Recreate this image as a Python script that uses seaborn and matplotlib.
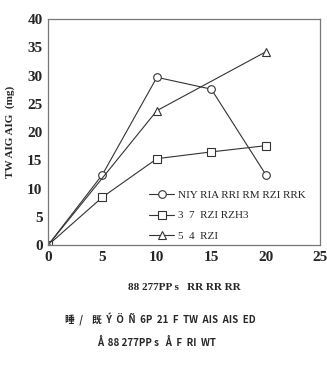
import matplotlib
matplotlib.use("Agg")
import matplotlib.pyplot as plt
import seaborn as sns
import pandas as pd

time_a = [0, 5, 10, 15, 20]
circle_vals = [0, 12.5, 29.7, 27.6, 12.5]
square_vals = [0, 8.5, 15.3, 16.5, 17.6]
time_b = [0, 10, 20]
triangle_vals = [0, 23.8, 34.2]
labels = ["NIY RIA RRI RM RZI RRK", "3  7  RZI RZH3", "5  4  RZI"]
xticks = [0, 5, 10, 15, 20, 25]
yticks = [0, 5, 10, 15, 20, 25, 30, 35, 40]

sns.set_theme(style="white")
plt.rcParams['font.family'] = ['Liberation Serif', 'DejaVu Serif']

df = pd.concat([
    pd.DataFrame({"t": time_a, "v": circle_vals, "s": labels[0]}),
    pd.DataFrame({"t": time_a, "v": square_vals, "s": labels[1]}),
    pd.DataFrame({"t": time_b, "v": triangle_vals, "s": labels[2]}),
])

fig = plt.figure(figsize=(3.27, 3.67), dpi=100)
ax = fig.add_axes([0.147, 0.332, 0.832, 0.616])
markers = {labels[0]: "o", labels[1]: "s", labels[2]: "^"}
for lab in labels:
    sub = df[df.s == lab]
    sns.lineplot(data=sub, x="t", y="v", ax=ax, color="#333333", lw=0.8,
                 marker=markers[lab], markersize=5.5, markerfacecolor="white",
                 markeredgecolor="#333333", markeredgewidth=0.8, label=lab)

ax.set_xlim(0, 25)
ax.set_ylim(0, 40)
ax.set_xticks(xticks)
ax.set_yticks(yticks)
ax.tick_params(length=0, labelsize=11, pad=4)
for t in ax.get_xticklabels() + ax.get_yticklabels():
    t.set_fontweight("heavy")
for sp in ax.spines.values():
    sp.set_color("#777777")
    sp.set_linewidth(0.9)
ax.set_xlabel("88 277PP s   RR RR RR", fontsize=8, fontweight="bold", labelpad=14)
ax.set_ylabel("TW AIG AIG  (mg)", fontsize=8, fontweight="bold", labelpad=9)
leg = ax.legend(loc="lower right", bbox_to_anchor=(0.985, -0.025), frameon=False,
                fontsize=8, handlelength=2.2, labelspacing=0.95, handletextpad=0.4)

fig.text(0.49, 0.118, "睡  /    既  Ý  Ö  Ñ  6P  21  F  TW  AIS  AIS  ED", ha="center",
         fontsize=7, fontweight="bold", family=['Noto Sans CJK SC', 'DejaVu Sans'])
fig.text(0.48, 0.058, "Å  88 277PP s   Å  F  RI  WT", ha="center",
         fontsize=7, fontweight="bold", family=['Noto Sans CJK SC', 'DejaVu Sans'])

fig.savefig("out.png", dpi=100)
